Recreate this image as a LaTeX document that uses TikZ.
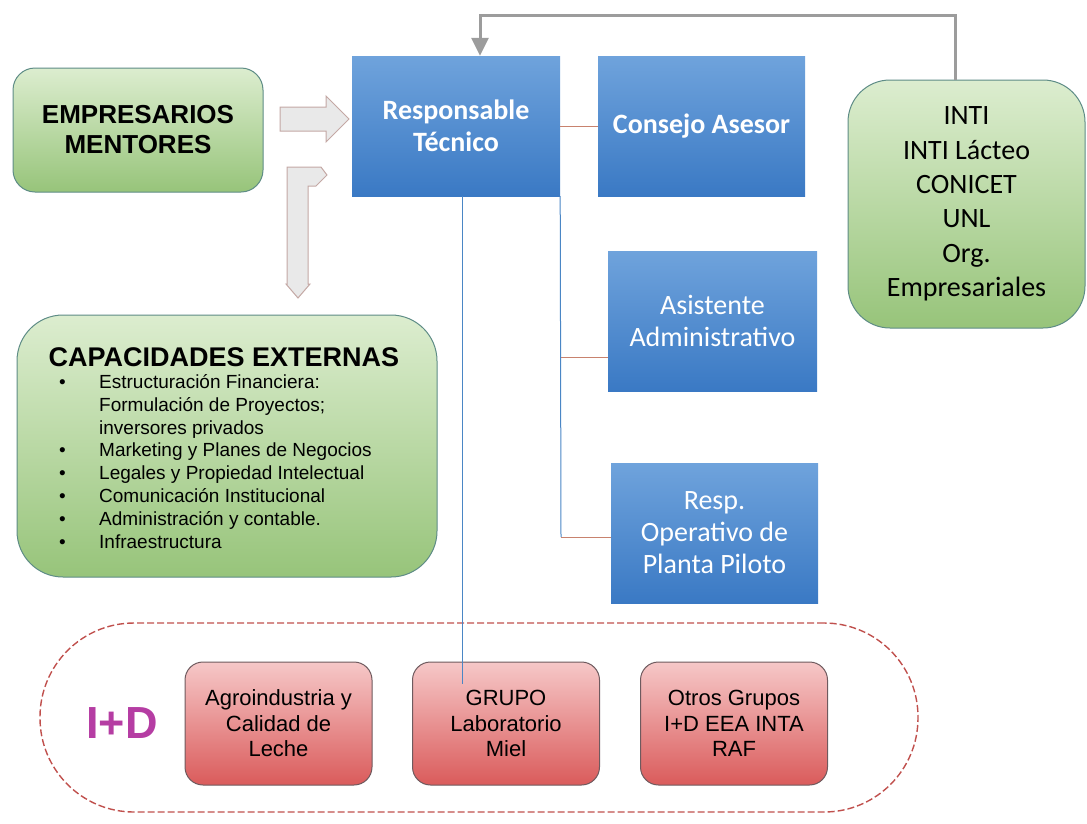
\documentclass[tikz,border=0pt]{standalone}
\usepackage{fontspec}
\setmainfont{Liberation Sans}
\newfontfamily\calfont{Carlito}
\usetikzlibrary{arrows.meta,calc}
\definecolor{gtop}{HTML}{DCEDCF}
\definecolor{gbot}{HTML}{97C47A}
\definecolor{gdraw}{HTML}{5E8C86}
\definecolor{btop}{HTML}{6FA3DC}
\definecolor{bbot}{HTML}{3A79C4}
\definecolor{ptop}{HTML}{F6C8C8}
\definecolor{pbot}{HTML}{DA5B5B}
\definecolor{pdraw}{HTML}{6E5A5E}
\definecolor{lnblue}{HTML}{4A86C5}
\definecolor{lnred}{HTML}{C8826E}
\definecolor{dashred}{HTML}{C0504D}
\definecolor{fbgrey}{HTML}{9C9C9C}
\definecolor{magentaid}{HTML}{B53DA3}
\definecolor{arrfill}{HTML}{E9E9E9}
\definecolor{arrdraw}{HTML}{C4A8A4}
\begin{document}
\begin{tikzpicture}[x=1pt,y=-1pt,
  greenbox/.style={draw=gdraw, line width=1pt, top color=gtop, bottom color=gbot, align=center, inner sep=0pt},
  bluebox/.style={draw=none, top color=btop, bottom color=bbot, text=white, align=center, inner sep=0pt,
     minimum height=140pt, font=\calfont\fontsize{28}{32}\selectfont},
  pinkbox/.style={draw=pdraw, line width=1pt, top color=ptop, bottom color=pbot, rounded corners=18pt,
     minimum width=187pt, minimum height=123pt, align=center, inner sep=0pt, font=\fontsize{22}{25.5}\selectfont},
  blockarrow/.style={draw=arrdraw, fill=arrfill, line width=1pt, line join=miter},
  vline/.style={draw=lnblue, line width=1pt},
  hline/.style={draw=lnred, line width=1pt},
  fbline/.style={draw=fbgrey, line width=3pt, -{Triangle[length=18pt,width=17pt]}}
]
\useasboundingbox (0,0) rectangle (1087,823);

% I+D container
\node[draw=dashred, line width=1.4pt, dash pattern=on 7pt off 3pt, rounded corners=94pt,
      minimum width=878pt, minimum height=189pt, inner sep=0pt] (idbox) at (479,717.5) {};
\node[text=magentaid, font=\bfseries\fontsize{45}{45}\selectfont, inner sep=0pt] (idlabel) at (122,723) {I+D};

% green boxes
\node[greenbox, rounded corners=22pt, minimum width=250pt, minimum height=124pt,
      font=\bfseries\fontsize{26}{30}\selectfont] (emp) at (138,130) {EMPRESARIOS\\MENTORES};
\node[greenbox, rounded corners=42pt, minimum width=237pt, minimum height=248pt,
      font=\calfont\fontsize{28}{34.4}\selectfont] (inti) at (966.5,204)
      {INTI\\INTI Lácteo\\CONICET\\UNL\\Org.\\Empresariales};
\node[greenbox, rounded corners=46pt, minimum width=420pt, minimum height=262pt] (cap) at (227,446) {};
\node[font=\bfseries\fontsize{27}{27}\selectfont, inner sep=0pt] (captitle) at (224,357) {CAPACIDADES EXTERNAS};
\node[anchor=north west, align=left, inner sep=0pt, font=\fontsize{19}{22.9}\selectfont] (caplist) at (59,374)
  {\makebox[40pt][l]{•}Estructuración Financiera:\\
   \hspace*{40pt}Formulación de Proyectos;\\
   \hspace*{40pt}inversores privados\\
   \makebox[40pt][l]{•}Marketing y Planes de Negocios\\
   \makebox[40pt][l]{•}Legales y Propiedad Intelectual\\
   \makebox[40pt][l]{•}Comunicación Institucional\\
   \makebox[40pt][l]{•}Administración y contable.\\
   \makebox[40pt][l]{•}Infraestructura};

% blue boxes
\node[bluebox, minimum width=208pt, font=\calfont\bfseries\fontsize{28}{32}\selectfont] (resp) at (456,126) {\raisebox{-3pt}{Responsable}\\\raisebox{-3pt}{Técnico}};
\node[bluebox, minimum width=207pt, font=\calfont\bfseries\fontsize{28}{32}\selectfont] (cons) at (701.5,126) {\raisebox{-5pt}{Consejo Asesor}};
\node[bluebox, minimum width=209pt] (asis) at (712.5,321) {Asistente\\Administrativo};
\node[bluebox, minimum width=207pt] (oper) at (714.5,533) {\raisebox{-3pt}{Resp.}\\\raisebox{-3pt}{Operativo de}\\\raisebox{-3pt}{Planta Piloto}};

% pink boxes
\node[pinkbox] (agro) at (278.5,723.5) {Agroindustria y\\Calidad de\\Leche};
\node[pinkbox] (miel) at (506,723.5) {GRUPO\\Laboratorio\\Miel};
\node[pinkbox] (otros) at (734,723.5) {Otros Grupos\\I+D EEA INTA\\RAF};

% connectors
\draw[hline] (resp.east) -- (cons.west);
\coordinate (b1) at (561,357);
\coordinate (b2) at (561,537);
\draw[vline] (resp.south east) -- (b2);
\draw[hline] (b1) -- (b1 -| asis.west);
\draw[hline] (b2) -- (b2 -| oper.west);
\coordinate (idtop) at ([xshift=6pt]resp.south);
\coordinate (idend) at ([xshift=-44pt,yshift=-22pt]miel.north);
\draw[vline] (idtop) -- (idtop |- idend);

% feedback arrow
\coordinate (fa) at ([xshift=-11.5pt]inti.north);
\coordinate (fb) at ([xshift=24pt]resp.north);
\coordinate (ftop) at (0,15);
\draw[fbline] (fa) -- (fa |- ftop) -| (fb);

% block arrows
\draw[blockarrow] (280,107) -- (326,107) -- (326,96) -- (349,119) -- (326,142) -- (326,131) -- (280,131) -- cycle;
\draw[blockarrow] (287,167) -- (321,167) -- (327,175) -- (316,186) -- (308,186) -- (308,284) -- (310,284)
   -- (298,298) -- (286,284) -- (287,284) -- cycle;
\end{tikzpicture}
\end{document}
